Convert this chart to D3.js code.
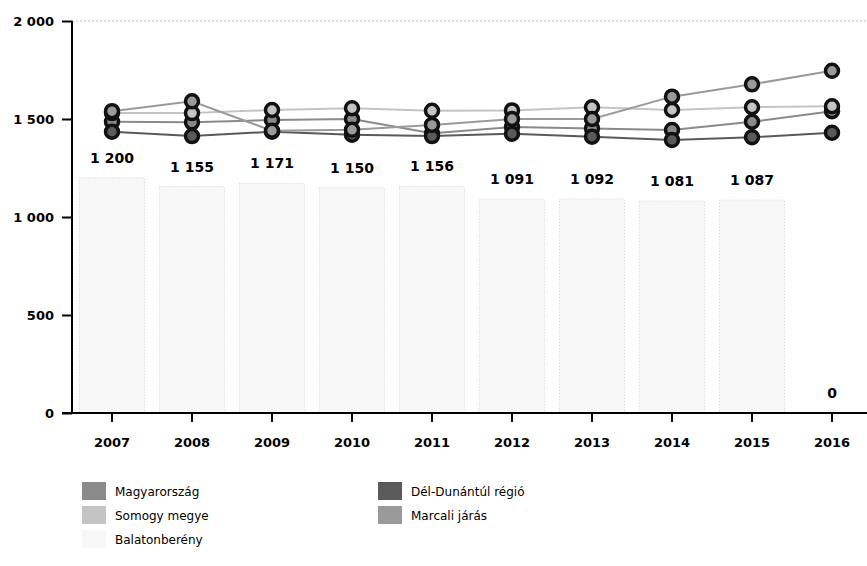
<!DOCTYPE html>
<html><head><meta charset="utf-8">
<script src="https://cdn.jsdelivr.net/npm/d3@7"></script>
<style>body{margin:0;background:#fff}svg{display:block}text{font-family:"DejaVu Sans",Verdana,sans-serif}</style>
</head><body><svg id="c" width="867" height="566"></svg>
<script>
const years = ["2007","2008","2009","2010","2011","2012","2013","2014","2015","2016"];
const barSeriesName = "Balatonberény";
const barValues = [1200,1155,1171,1150,1156,1091,1092,1081,1087,0];
const lineNames = ["Magyarország","Dél-Dunántúl régió","Somogy megye","Marcali járás"];
const magyarorszag = [1486,1483,1495,1500,1427,1459,1452,1444,1486,1540];
const delDunantul = [1435,1413,1435,1420,1413,1425,1410,1393,1407,1430];
const somogy = [1530,1530,1546,1555,1542,1544,1560,1546,1560,1565];
const marcali = [1540,1590,1440,1445,1470,1500,1500,1614,1677,1746];
const yTicks = [0,500,1000,1500,2000];
const lineColors = ["#8a8a8a","#5a5a5a","#c4c4c4","#9a9a9a"];
const barColor = "#f8f8f8";

const lineData = [magyarorszag, delDunantul, somogy, marcali];
const svg = d3.select("#c");
const x = d3.scaleBand().domain(years).range([72, 872]).paddingInner(0.1875).paddingOuter(0.09375);
const y = d3.scaleLinear().domain([0, 2000]).range([413, 21]);
const fmt = v => d3.format(",")(v).replace(/,/g, " ");

// top dotted border
svg.append("line").attr("x1", 72).attr("x2", 867).attr("y1", y(2000)).attr("y2", y(2000))
  .attr("stroke", "#bbb").attr("stroke-dasharray", "2,2");

// bars
svg.append("g").selectAll("rect").data(barValues).join("rect")
  .attr("x", (d,i) => x(years[i])).attr("width", x.bandwidth())
  .attr("y", d => y(d)).attr("height", d => y(0) - y(d))
  .attr("fill", barColor).attr("stroke", "#d2d2d2").attr("stroke-dasharray", "1,2");

// bar labels
svg.append("g").selectAll("text").data(barValues).join("text")
  .attr("x", (d,i) => x(years[i]) + x.bandwidth()/2).attr("y", d => y(d) - 15)
  .attr("text-anchor", "middle").attr("font-size", 14).attr("font-weight", "bold").attr("fill", "#000")
  .text(d => fmt(d));

// lines
const cx = i => x(years[i]) + x.bandwidth()/2;
const line = d3.line().x((d,i) => cx(i)).y(d => y(d));
lineData.forEach((s, k) => {
  svg.append("path").datum(s).attr("d", line).attr("fill", "none")
    .attr("stroke", lineColors[k]).attr("stroke-width", 2);
});
lineData.forEach((s, k) => {
  svg.append("g").selectAll("circle").data(s).join("circle")
    .attr("cx", (d,i) => cx(i)).attr("cy", d => y(d)).attr("r", 6.5)
    .attr("fill", lineColors[k]).attr("stroke", "#111").attr("stroke-width", 3.5);
});

// axes
const yAxis = d3.axisLeft(y).tickValues(yTicks).tickSize(10).tickPadding(8).tickFormat(fmt);
const gy = svg.append("g").attr("transform", "translate(72,0)").call(yAxis);
gy.select(".domain").attr("stroke", "#000").attr("stroke-width", 2).attr("d", "M0,413V21");
gy.selectAll(".tick line").attr("stroke", "#000").attr("stroke-width", 2);
gy.selectAll("text").attr("font-size", 13).attr("fill", "#000").attr("font-weight", "bold");

const xAxis = d3.axisBottom(x).tickSize(9).tickPadding(16);
const gx = svg.append("g").attr("transform", "translate(0,413)").call(xAxis);
gx.select(".domain").attr("stroke", "#000").attr("stroke-width", 2).attr("d", "M62,0H867");
gx.selectAll(".tick line").attr("stroke", "#000").attr("stroke-width", 2);
gx.selectAll("text").attr("font-size", 13).attr("fill", "#000").attr("font-weight", "bold");

// legend
const legendItems = [
  {name: lineNames[0], color: lineColors[0], col: 0, row: 0},
  {name: lineNames[1], color: lineColors[1], col: 1, row: 0},
  {name: lineNames[2], color: lineColors[2], col: 0, row: 1},
  {name: lineNames[3], color: lineColors[3], col: 1, row: 1},
  {name: barSeriesName, color: barColor, col: 0, row: 2}
];
const lg = svg.append("g").selectAll("g").data(legendItems).join("g")
  .attr("transform", d => `translate(${d.col ? 378 : 82},${482 + d.row*24})`);
lg.append("rect").attr("width", 24).attr("height", 18).attr("fill", d => d.color);
lg.append("text").attr("x", 33).attr("y", 14).attr("font-size", 12).attr("fill", "#000").text(d => d.name);
</script></body></html>
